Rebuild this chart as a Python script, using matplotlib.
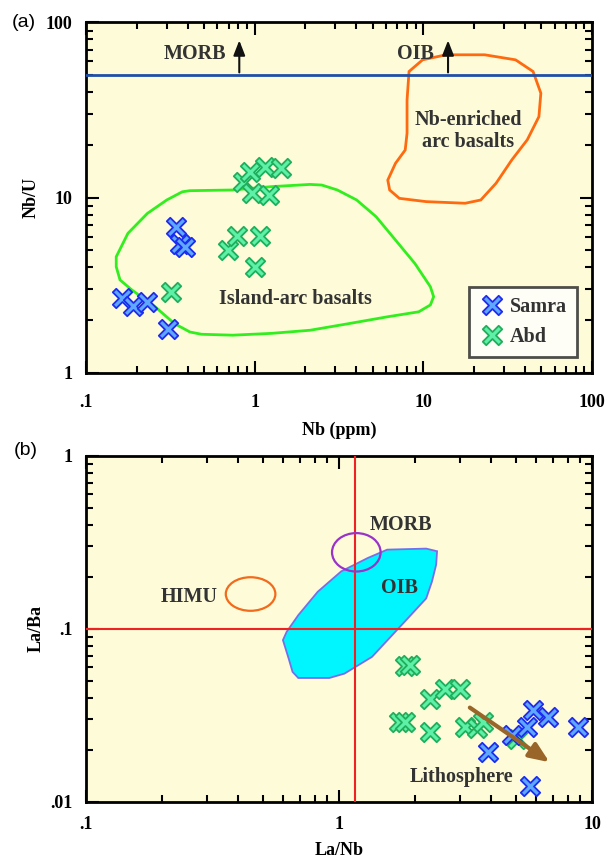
import numpy as np
import matplotlib
matplotlib.use('Agg')
import matplotlib.pyplot as plt
from matplotlib.patches import Polygon, Ellipse
from matplotlib.lines import Line2D
from matplotlib.path import Path

# ----------- dados (a): Nb x Nb/U -----------
samra_nb = [0.163, 0.191, 0.229, 0.308, 0.341, 0.361, 0.386]
samra_nbu = [2.66, 2.40, 2.55, 1.79, 6.78, 5.44, 5.21]
abd_nb = [0.318, 0.698, 0.789, 1.07, 1.0, 0.856, 0.96, 0.938, 1.15, 1.22, 1.44]
abd_nbu = [2.90, 5.03, 6.04, 6.04, 4.03, 12.3, 10.6, 14.1, 15.0, 10.4, 14.8]

morb_oib_nbu = 50
arrow_nb = [0.81, 14.0]

# campo Island-arc basalts
iab_x = [0.151, 0.177, 0.231, 0.301, 0.372, 0.413, 0.74, 1.26, 2.13, 2.50, 3.09, 4.02,
         5.24, 6.83, 8.90, 11.0, 11.5, 11.0, 9.38, 6.15, 3.62, 2.13, 1.26, 0.74,
         0.484, 0.413, 0.334, 0.257, 0.187, 0.159, 0.151]
iab_y = [4.60, 6.25, 8.13, 9.70, 10.8, 10.96, 11.06, 11.56, 11.9, 11.8, 11.06, 9.70,
         7.79, 5.73, 4.21, 3.10, 2.72, 2.44, 2.23, 2.09, 1.91, 1.75, 1.68, 1.64,
         1.66, 1.71, 1.91, 2.38, 2.97, 3.39, 4.03]

# campo Nb-enriched arc basalts
neab_x = [8.22, 9.89, 13.6, 23.1, 35.2, 44.7, 49.7, 48.4, 41.3, 33.4, 27.0, 21.9,
          17.7, 10.4, 7.20, 6.31, 6.15, 6.83, 7.80, 8.0, 8.0]
neab_y = [52.5, 61.2, 65.4, 65.4, 61.2, 52.5, 39.5, 29.0, 21.4, 16.4, 12.1, 9.70,
          9.29, 9.49, 9.91, 11.06, 12.6, 15.7, 18.7, 23.3, 36.1]

# ----------- dados (b): La/Nb x La/Ba -----------
abd_lanb = [1.82, 1.91, 2.29, 2.62, 3.01, 1.72, 1.82, 2.29, 3.15, 3.50, 3.72, 5.04]
abd_laba = [0.0611, 0.0621, 0.0395, 0.0451, 0.0448, 0.0289, 0.0289, 0.0255, 0.0270,
            0.0268, 0.0289, 0.0231]
samra_lanb = [3.89, 4.81, 5.52, 5.86, 6.72, 8.83, 5.69]
samra_laba = [0.0194, 0.0242, 0.0270, 0.0338, 0.0309, 0.0270, 0.0124]

ref_lanb = 1.16
ref_laba = 0.1

oib_x = [0.600, 0.632, 0.655, 0.690, 0.915, 1.05, 1.35, 1.67, 1.92, 2.21, 2.33, 2.42,
         2.44, 2.21, 1.55, 1.30, 1.02, 0.824, 0.690, 0.621]
oib_y = [0.0861, 0.0674, 0.0564, 0.0520, 0.0520, 0.0551, 0.0689, 0.0963, 0.120, 0.150,
         0.188, 0.235, 0.281, 0.291, 0.287, 0.257, 0.215, 0.164, 0.120, 0.0963]

morb_centro = (1.17, 0.277)
himu_centro = (0.447, 0.159)
litho_inicio = (3.22, 0.0358)
litho_fim = (6.93, 0.0166)

# ----------- estilo -----------
fundo = '#fefcd8'
serif = 'Liberation Serif'
azul_borda, azul_fill = '#1d2cf0', '#5fa8ff'
verde_borda, verde_fill = '#1fae5c', '#5ef0a6'

# marcador em X com bracos mais finos que o 'X' padrao
k = 0.36
marcador_x = Path([(0, k), (1 - k, 1), (1, 1 - k), (k, 0), (1, -1 + k), (1 - k, -1),
                   (0, -k), (-1 + k, -1), (-1, -1 + k), (-k, 0), (-1, 1 - k), (-1 + k, 1),
                   (0, k)], closed=True)
mk = dict(ls='none', marker=marcador_x, ms=14, mew=1.3)


def estilo_eixo(ax, xt, xl, yt, yl, xpad):
    ax.set_xscale('log')
    ax.set_yscale('log')
    ax.set_facecolor(fundo)
    ax.set_xticks(xt)
    ax.set_xticklabels(xl)
    ax.set_yticks(yt)
    ax.set_yticklabels(yl)
    ax.tick_params(which='both', direction='in', top=True, right=True, width=1.5)
    ax.tick_params(which='major', length=9)
    ax.tick_params(which='minor', length=5)
    ax.tick_params(axis='x', which='major', pad=xpad)
    ax.tick_params(axis='y', which='major', pad=10)
    for lab in ax.get_xticklabels() + ax.get_yticklabels():
        lab.set_fontfamily(serif)
        lab.set_fontweight('bold')
        lab.set_fontsize(13)
    for s in ax.spines.values():
        s.set_linewidth(2)


fig = plt.figure(figsize=(6.06, 8.65), dpi=100)

# ----------- painel (a) -----------
ax1 = fig.add_axes([0.142, 0.569, 0.835, 0.405])
estilo_eixo(ax1, [0.1, 1, 10, 100], ['.1', '1', '10', '100'], [1, 10, 100], ['1', '10', '100'], 15)
ax1.set_xlim(0.1, 100)
ax1.set_ylim(1, 100)

ax1.add_patch(Polygon(np.column_stack([iab_x, iab_y]), closed=True, fill=False,
                      edgecolor='#33ee1f', lw=2, zorder=2))
ax1.add_patch(Polygon(np.column_stack([neab_x, neab_y]), closed=True, fill=False,
                      edgecolor='#ff6a10', lw=2, zorder=2))
ax1.axhline(morb_oib_nbu, color='#1f4fa8', lw=2, zorder=3)
for xa in arrow_nb:
    ax1.annotate('', xy=(xa, 82), xytext=(xa, morb_oib_nbu),
                 arrowprops=dict(arrowstyle='-|>,head_length=0.9,head_width=0.35',
                                 color='#111111', lw=1.5), zorder=4)

ax1.text(0.44, 66, 'MORB', family=serif, weight='bold', fontsize=14.5, color='#333333',
         ha='center', va='center')
ax1.text(9.0, 66, 'OIB', family=serif, weight='bold', fontsize=14.5, color='#333333',
         ha='center', va='center')
ax1.text(18.5, 24, 'Nb-enriched\narc basalts', family=serif, weight='bold', fontsize=14.5,
         color='#333333', ha='center', va='center', linespacing=1.1)
ax1.text(1.75, 2.63, 'Island-arc basalts', family=serif, weight='bold', fontsize=14.5,
         color='#333333', ha='center', va='center')

ax1.plot(samra_nb, samra_nbu, mfc=azul_fill, mec=azul_borda, zorder=5, **mk)
ax1.plot(abd_nb, abd_nbu, mfc=verde_fill, mec=verde_borda, zorder=5, **mk)

ax1.set_xlabel('Nb (ppm)', family=serif, weight='bold', fontsize=13, labelpad=8)
ax1.set_ylabel('Nb/U', family=serif, weight='bold', fontsize=13, labelpad=4)

handles = [Line2D([], [], mfc=azul_fill, mec=azul_borda, **mk),
           Line2D([], [], mfc=verde_fill, mec=verde_borda, **mk)]
leg = ax1.legend(handles, ['Samra', 'Abd'], loc='lower right', bbox_to_anchor=(0.99, 0.015),
                 prop={'family': serif, 'weight': 'bold', 'size': 14.5}, frameon=True,
                 fancybox=False, edgecolor='#222222', handletextpad=0.3, borderpad=0.5,
                 handlelength=1.2, labelspacing=0.5)
leg.get_frame().set_linewidth(2)
leg.get_frame().set_facecolor('white')
for t in leg.get_texts():
    t.set_color('#333333')

fig.text(0.02, 0.974, '(a)', family='Liberation Sans', fontsize=14, va='center')

# ----------- painel (b) -----------
ax2 = fig.add_axes([0.142, 0.073, 0.835, 0.400])
estilo_eixo(ax2, [0.1, 1, 10], ['.1', '1', '10'], [0.01, 0.1, 1], ['.01', '.1', '1'], 10)
ax2.set_xlim(0.1, 10)
ax2.set_ylim(0.01, 1)

ax2.add_patch(Polygon(np.column_stack([oib_x, oib_y]), closed=True, facecolor='#00f6ff',
                      edgecolor='#7a6ee8', lw=1.3, zorder=2))
ax2.axvline(ref_lanb, color='#ee2222', lw=1.5, zorder=3)
ax2.axhline(ref_laba, color='#ee2222', lw=1.5, zorder=3)


def elipse(ax, centro, w, h, cor):
    # largura e altura em fração do eixo
    pt = ax.transAxes.inverted().transform(ax.transData.transform(centro))
    ax.add_patch(Ellipse(pt, w, h, transform=ax.transAxes, fill=False,
                         edgecolor=cor, lw=1.6, zorder=4))


elipse(ax2, morb_centro, 0.096, 0.111, '#9a33c8')
elipse(ax2, himu_centro, 0.098, 0.097, '#f26a1b')

ax2.text(1.76, 0.40, 'MORB', family=serif, weight='bold', fontsize=14.5, color='#333333',
         ha='center', va='center')
ax2.text(1.73, 0.173, 'OIB', family=serif, weight='bold', fontsize=14.5, color='#333333',
         ha='center', va='center')
ax2.text(0.255, 0.152, 'HIMU', family=serif, weight='bold', fontsize=14.5, color='#333333',
         ha='center', va='center')
ax2.text(3.06, 0.0140, 'Lithosphere', family=serif, weight='bold', fontsize=14.5,
         color='#333333', ha='center', va='center')

ax2.plot(abd_lanb, abd_laba, mfc=verde_fill, mec=verde_borda, zorder=5, **mk)
ax2.plot(samra_lanb, samra_laba, mfc=azul_fill, mec=azul_borda, zorder=5, **mk)

ax2.annotate('', xy=litho_fim, xytext=litho_inicio,
             arrowprops=dict(arrowstyle='-|>,head_length=1.2,head_width=0.5',
                             color='#9a6528', lw=3), zorder=6)

ax2.set_xlabel('La/Nb', family=serif, weight='bold', fontsize=13, labelpad=7)
ax2.set_ylabel('La/Ba', family=serif, weight='bold', fontsize=13, labelpad=4)

fig.text(0.022, 0.479, '(b)', family='Liberation Sans', fontsize=14, va='center')

plt.savefig('out.png', dpi=100)
